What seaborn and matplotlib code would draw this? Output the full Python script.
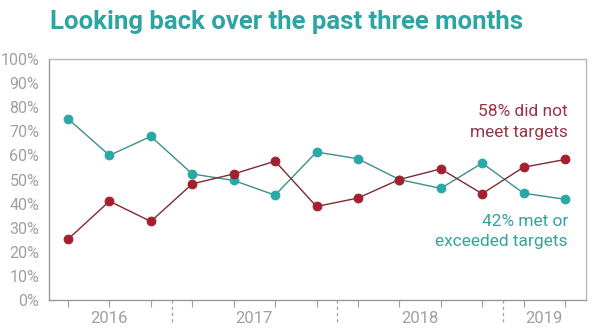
import matplotlib
matplotlib.use("Agg")
import matplotlib.pyplot as plt
import matplotlib.transforms as mtransforms
import seaborn as sns
import pandas as pd

periods = list(range(13))
met = [75.2, 60.0, 67.9, 52.3, 49.6, 43.5, 61.4, 58.6, 50.0, 46.3, 56.8, 44.3, 41.8]
not_met = [25.2, 41.0, 32.6, 48.2, 52.3, 57.6, 38.8, 42.3, 50.0, 54.4, 44.1, 55.1, 58.3]
years = ["2016", "2017", "2018", "2019"]
year_pos = [1, 4.5, 8.5, 11.5]
dividers = [2.5, 6.5, 10.5]
yticks = [0, 10, 20, 30, 40, 50, 60, 70, 80, 90, 100]

df = pd.DataFrame({
    "period": periods * 2,
    "value": met + not_met,
    "series": ["met"] * 13 + ["not"] * 13,
})

sns.set_style("white")
plt.rcParams["font.family"] = ["Roboto", "DejaVu Sans"]

teal_m = "#2aa8a6"
red_m = "#a3202f"
teal_l = "#3e8f8c"
red_l = "#7d2a33"
gray = "#a0a0a0"

fig = plt.figure(figsize=(5.96, 3.36), dpi=100)
ax = fig.add_axes([49/596, 1-300/336, (586-49)/596, (300-59)/336])

sns.lineplot(data=df[df.series == "met"], x="period", y="value", ax=ax,
             color=teal_l, linewidth=1.0, marker="o", markersize=6.3,
             markerfacecolor=teal_m, markeredgecolor=teal_m, legend=False)
sns.lineplot(data=df[df.series == "not"], x="period", y="value", ax=ax,
             color=red_l, linewidth=1.0, marker="o", markersize=6.3,
             markerfacecolor=red_m, markeredgecolor=red_m, legend=False)

ax.set_xlim(-0.459, 12.507)
ax.set_ylim(0, 100)
ax.set_yticks(yticks)
ax.set_yticklabels([f"{v}%" for v in yticks], color=gray, fontsize=11.5)
ax.set_xticks(periods)
ax.set_xticklabels([])
ax.tick_params(axis="x", direction="out", length=5, width=0.8, color=gray, bottom=True)
ax.tick_params(axis="y", length=0, pad=7)
ax.set_xlabel("")
ax.set_ylabel("")
for s in ax.spines.values():
    s.set_color("#b8b8b8")
    s.set_linewidth(1.0)
ax.spines["left"].set_color("#999999")
ax.spines["bottom"].set_color("#999999")

trans = mtransforms.blended_transform_factory(ax.transData, ax.transAxes)
for d in dividers:
    ax.plot([d, d], [0, -0.105], transform=trans, clip_on=False,
            color=gray, linewidth=0.9, linestyle=(0, (2.5, 2.5)))
for y, p in zip(years, year_pos):
    ax.text(p, -0.078, y, transform=trans, ha="center", va="center",
            color=gray, fontsize=12)

ax.text(12.07, 73.8, "58% did not\nmeet targets", ha="right", va="center",
        color="#9a3446", fontsize=12.5, linespacing=1.45)
ax.text(12.07, 28.5, "42% met or\nexceeded targets", ha="right", va="center",
        color="#33a3a1", fontsize=12.5, linespacing=1.45)

fig.text(50/596, 1-22/336, "Looking back over the past three months",
         ha="left", va="center", color="#2ea5a3", fontsize=18.5, fontweight="bold")

fig.savefig("out.png", dpi=100, facecolor="white")
